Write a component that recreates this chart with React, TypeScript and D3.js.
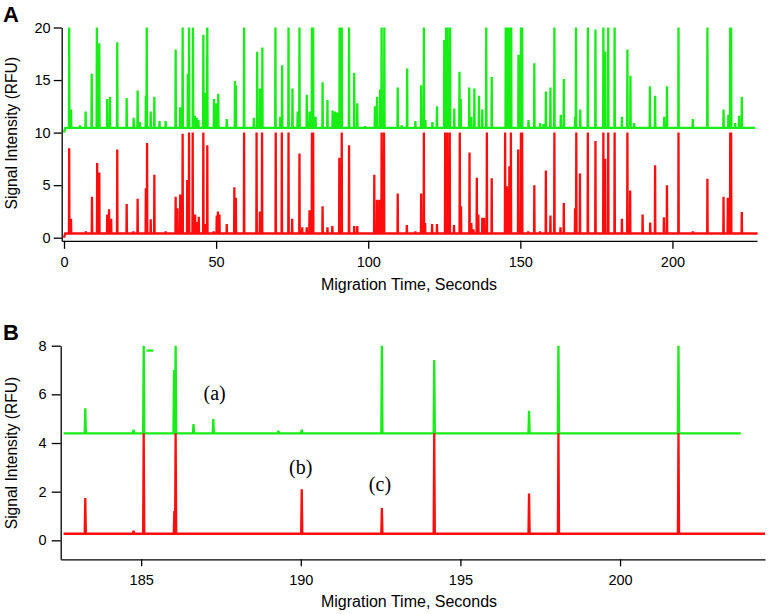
import React, { useEffect, useRef } from "react";
import * as d3 from "d3";

// ---------- Panel A data (time s, signal RFU) ----------
const greenAPeaks: [number, number][] = [
  [1.7,20],[2.3,12.2],[5.3,10.7],[7.1,12.0],[9.1,15.6],[10.8,20],[11.6,18.5],[14.2,13.2],[15.1,13.4],[17.5,18.6],
  [20.6,13.3],[22.9,11.4],[24.2,14.0],[24.9,11.0],[26.9,13.5],[27.2,20],[28.5,12.0],[29.7,13.4],[31.4,11.1],[33.4,11.1],
  [36.7,17.9],[38.2,12.4],[39.0,20],[40.7,15.6],[41.1,20],[42.4,20],[43.0,11.6],[43.6,11.4],[44.2,11.2],[45.8,19.3],
  [46.4,13.8],[47.1,20],[49.3,13.2],[50.1,12.8],[50.7,13.7],[53.5,11.3],[56.2,14.9],[56.5,14.5],[59.2,20],[62.4,11.4],
  [63.5,17.7],[64.4,14.2],[65.2,18.1],[69.5,20],[71.1,11.5],[71.7,16.4],[73.8,20],[75.1,14.2],[76.8,12.0],[77.4,20],
  [79.8,13.6],[80.7,12.0],[81.5,20],[81.9,20],[82.7,11.5],[85.0,14.8],[86.6,13.1],[88.3,12.1],[89.1,12.0],[89.8,11.9],
  [90.6,20],[91.3,20],[93.7,20],[95.4,15.7],[96.4,12.8],[99.0,10.6],[102.2,12.5],[102.9,13.4],[103.9,14.1],[104.4,20],
  [105.3,20],[109.7,14.3],[111.0,10.7],[112.8,16.1],[115.5,11.1],[117.4,14.5],[118.3,20],[118.8,11.2],[121.1,11.0],[122.6,12.5],
  [125.0,18.8],[125.6,20],[126.1,20],[126.9,20],[128.3,12.3],[130.0,15.8],[130.4,13.2],[133.2,14.3],[133.9,11.5],[134.9,14.2],
  [136.4,13.5],[137.5,12.2],[138.8,20],[140.6,15.3],[145.2,20],[145.7,20],[146.4,20],[147.0,20],[149.4,17.4],[150.2,20],
  [150.6,20],[152.7,11.2],[154.6,16.6],[156.5,10.9],[157.6,10.8],[158.4,13.9],[159.9,14.3],[161.2,20],[163.3,11.7],[164.3,15.1],
  [168.0,11.5],[168.3,20],[169.7,12.2],[172.2,20],[174.7,19.8],[177.3,20],[177.9,17.7],[178.9,20],[181.0,20],[183.4,11.5],
  [185.2,17.9],[186.2,15.4],[187.4,10.9],[189.9,10.5],[192.6,14.4],[194.3,13.5],[197.3,11.5],[198.2,14.4],[202.0,20],[206.7,11.3],
  [211.5,20],[216.8,12.2],[218.4,11.7],[219.0,20],[219.3,20],[220.6,10.9],[221.9,11.6],[222.8,13.4]
];
const redAPeaks: [number, number][] = [
  [1.7,8.5],[2.3,1.8],[7.2,0.6],[9.2,3.9],[10.9,7.1],[11.6,6.2],[14.2,2.2],[14.8,2.7],[15.5,1.8],[17.5,8.4],
  [20.6,3.2],[22.8,0.6],[24.2,3.7],[26.9,4.7],[27.3,9.0],[28.5,1.75],[29.7,6.0],[33.4,0.6],[36.7,3.9],[37.3,2.8],
  [38.2,4.1],[39.0,9.9],[40.5,5.5],[41.1,10],[42.3,10],[43.1,2.2],[43.6,1.5],[44.3,2.0],[45.8,10],[46.4,1.3],
  [47.1,8.8],[49.2,0.6],[50.2,2.1],[50.6,2.5],[51.1,2.2],[53.5,1.3],[56.0,4.8],[56.5,3.8],[59.2,10],[63.3,10],
  [64.4,2.5],[65.1,10],[69.6,10],[71.6,10],[73.8,10],[75.0,1.8],[77.4,8.0],[78.3,1.0],[79.8,1.0],[80.7,2.6],
  [81.5,10],[81.9,10],[85.0,3.0],[86.6,1.0],[88.2,1.1],[90.5,7.6],[91.3,10],[93.7,8.8],[95.4,1.1],[96.4,1.1],
  [102.0,6.0],[102.9,3.6],[103.7,3.6],[104.4,10],[105.2,10],[109.7,4.2],[112.7,1.2],[115.5,0.6],[117.4,4.2],[118.3,10],
  [118.7,1.4],[121.0,1.3],[122.6,1.3],[125.3,10],[126.0,10],[126.8,10],[128.2,1.2],[130.1,10],[130.5,3.0],[133.3,8.1],
  [133.9,1.4],[134.6,0.8],[135.7,5.7],[136.2,2.2],[137.5,1.9],[138.1,1.9],[139.0,10],[140.6,5.65],[145.0,10],[145.6,4.9],
  [146.4,6.8],[146.9,10],[149.3,8.4],[150.2,10],[150.6,10],[152.6,0.6],[154.6,5.0],[156.5,0.6],[158.4,6.4],[159.9,2.1],
  [161.2,10],[163.2,1.0],[164.3,3.3],[168.0,2.8],[168.4,10],[169.6,6.1],[172.2,10],[174.7,9.2],[177.3,10],[177.9,7.5],
  [178.9,10],[181.0,10],[183.4,1.8],[185.2,10],[186.1,4.5],[190.2,2.2],[192.7,1.45],[194.3,6.9],[197.2,1.95],[198.2,5.0],
  [202.0,10],[206.7,0.6],[211.5,5.6],[216.8,3.9],[218.2,3.8],[219.0,10],[219.3,10],[220.6,0.5],[221.9,0.5],[222.8,2.45]
];
// [start time, start value, baseline, end time]
const greenATrace = [0.0, 10.0, 10.45, 227.2];
const redATrace = [0.0, 0.0, 0.4, 228.0];

// ---------- Panel B data ----------
const greenBPeaks: [number, number][] = [
  [183.25,5.43],[184.76,4.55],[185.08,8.0],[186.03,7.0],[186.08,8.0],[186.64,4.78],[187.26,4.99],[189.3,4.5],
  [190.03,4.55],[192.54,8.0],[194.18,7.41],[197.15,5.32],[198.07,8.0],[201.83,8.0]
];
const greenBDash: [number, number][] = [[185.17,7.8],[185.38,7.8]];
const redBPeaks: [number, number][] = [
  [183.25,1.74],[184.76,0.4],[185.08,4.4],[186.04,1.2],[186.08,4.4],[190.03,2.1],[192.54,1.33],
  [194.18,4.4],[197.15,1.92],[198.07,4.4],[201.83,4.4]
];
const greenBTrace = [182.57, 4.4, 4.4, 203.78];
const redBTrace = [182.57, 0.27, 0.27, 204.54];

// ---------- Axis ticks and labels ----------
const ticksAX = [0, 50, 100, 150, 200];
const ticksAY = [0, 5, 10, 15, 20];
const ticksBX = [185, 190, 195, 200];
const ticksBY = [0, 2, 4, 6, 8];
const annotations: [string, number, number][] = [["(a)", 187.3, 6.05], ["(b)", 190.0, 3.0], ["(c)", 192.48, 2.3]];
const xTitle = "Migration Time, Seconds";
const yTitle = "Signal Intensity (RFU)";

const GREEN = "#16ee16";
const RED = "#ff0d0d";
const FONT = "'Liberation Sans', Arial, Helvetica, sans-serif";

function tracePoints(trace: number[], peaks: [number, number][], hw: number): [number, number][] {
  const [t0, v0, base, t1] = trace;
  const pts: [number, number][] = [[t0, v0], [t0 + 0.4, base]];
  const sorted = [...peaks].sort((a, b) => a[0] - b[0]);
  for (const [t, v] of sorted) {
    pts.push([t - hw, base], [t, v], [t + hw, base]);
  }
  pts.push([t1, base]);
  return pts;
}

export default function App() {
  const ref = useRef<SVGSVGElement>(null);

  useEffect(() => {
    const svg = d3.select(ref.current);
    svg.selectAll("*").remove();

    const panels = [
      {
        x: d3.scaleLinear().domain([-0.76, 227.8]).range([61.7, 757]),
        y: d3.scaleLinear().domain([-0.3, 20]).range([240.85, 27.5]),
        xt: ticksAX, yt: ticksAY,
        series: [
          { pts: tracePoints(greenATrace, greenAPeaks, 0.08), c: GREEN },
          { pts: tracePoints(redATrace, redAPeaks, 0.08), c: RED },
        ],
        letter: "A", letterY: 22, xTitleY: 290, yTitleOff: -1,
        xTickSize: 8, yTickSize: 8, yPad: 3,
      },
      {
        x: d3.scaleLinear().domain([182.48, 204.54]).range([60.7, 765]),
        y: d3.scaleLinear().domain([-0.78, 8]).range([559.3, 345.7]),
        xt: ticksBX, yt: ticksBY,
        series: [
          { pts: tracePoints(greenBTrace, greenBPeaks, 0.018), c: GREEN },
          { pts: greenBDash, c: GREEN },
          { pts: tracePoints(redBTrace, redBPeaks, 0.018), c: RED },
        ],
        letter: "B", letterY: 340, xTitleY: 607, yTitleOff: 0.5,
        xTickSize: 7, yTickSize: 9, yPad: 5,
      },
    ];

    panels.forEach((p) => {
      const g = svg.append("g");
      const line = d3.line<[number, number]>().x(d => p.x(d[0])).y(d => p.y(d[1]));
      p.series.forEach(s => {
        g.append("path")
          .attr("d", line(s.pts))
          .attr("fill", "none")
          .attr("stroke", s.c)
          .attr("stroke-width", 2.3)
          .attr("stroke-linejoin", "miter")
          .attr("stroke-miterlimit", 2);
      });

      const [y0] = p.y.range();
      const [x0] = p.x.range();
      const xa = g.append("g").attr("transform", `translate(0,${y0})`)
        .call(d3.axisBottom(p.x).tickValues(p.xt).tickSize(p.xTickSize).tickSizeOuter(0).tickPadding(8).tickFormat(d3.format("d")));
      const ya = g.append("g").attr("transform", `translate(${x0},0)`)
        .call(d3.axisLeft(p.y).tickValues(p.yt).tickSize(p.yTickSize).tickSizeOuter(0).tickPadding(p.yPad).tickFormat(d3.format("d")));
      [xa, ya].forEach(a => {
        a.selectAll("path,line").attr("stroke", "#000").attr("stroke-width", 1.3);
        a.selectAll("text").attr("font-family", FONT).attr("font-size", 14.5).attr("fill", "#000");
      });

      const yr = p.y.range();
      svg.append("text").text(xTitle)
        .attr("x", 409).attr("y", p.xTitleY)
        .attr("text-anchor", "middle").attr("font-family", FONT).attr("font-size", 16);
      svg.append("text").text(yTitle)
        .attr("transform", `translate(17,${(yr[0] + yr[1]) / 2 + p.yTitleOff}) rotate(-90)`)
        .attr("text-anchor", "middle").attr("font-family", FONT).attr("font-size", 15.6);
      svg.append("text").text(p.letter)
        .attr("x", 3).attr("y", p.letterY)
        .attr("font-family", FONT).attr("font-size", 22).attr("font-weight", "bold");
    });

    const pB = panels[1];
    annotations.forEach(([txt, t, v]) => {
      svg.append("text").text(txt)
        .attr("x", pB.x(t)).attr("y", pB.y(v))
        .attr("dy", "0.35em")
        .attr("text-anchor", "middle")
        .attr("font-family", "'Liberation Serif', 'Times New Roman', serif")
        .attr("font-size", 20);
    });
  }, []);

  return (
    <svg
      ref={ref}
      width={769}
      height={614}
      style={{ position: "absolute", left: 0, top: 0, background: "#fff" }}
    />
  );
}
